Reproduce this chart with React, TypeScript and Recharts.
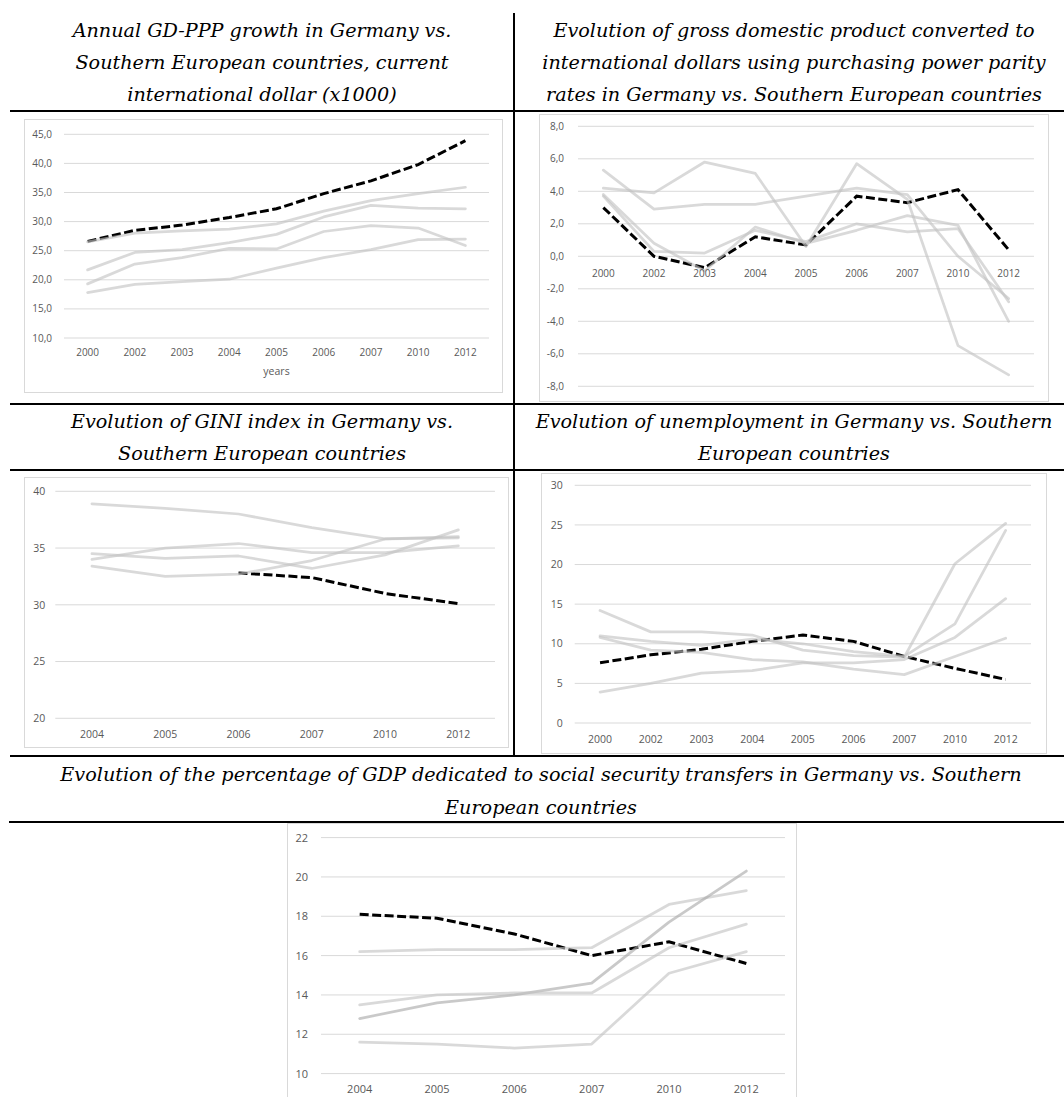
import React from "react";
import { LineChart, Line, XAxis, YAxis, CartesianGrid } from "recharts";

// categories
const years9 = ["2000", "2002", "2003", "2004", "2005", "2006", "2007", "2010", "2012"];
const years6 = ["2004", "2005", "2006", "2007", "2010", "2012"];

// GDP per capita, PPP, current international dollar (x1000)
const gdpGermany = [26.6, 28.5, 29.4, 30.7, 32.2, 34.8, 37.0, 39.8, 43.9];
const gdpSouthA = [26.5, 28.0, 28.4, 28.7, 29.6, 31.8, 33.6, 34.8, 35.9];
const gdpSouthB = [21.7, 24.7, 25.2, 26.4, 27.8, 30.8, 32.8, 32.3, 32.2];
const gdpSouthC = [19.3, 22.7, 23.8, 25.4, 25.3, 28.3, 29.3, 28.9, 25.9];
const gdpSouthD = [17.8, 19.2, 19.7, 20.1, 22.0, 23.8, 25.2, 26.9, 27.0];
const gdpTicks = [10, 15, 20, 25, 30, 35, 40, 45];

// GDP growth (%)
const growthGermany = [3.0, 0.0, -0.7, 1.2, 0.7, 3.7, 3.3, 4.1, 0.4];
const growthSouthA = [5.3, 2.9, 3.2, 3.2, 3.7, 4.2, 3.8, 0.0, -2.6];
const growthSouthB = [4.2, 3.9, 5.8, 5.1, 0.6, 5.7, 3.5, -5.5, -7.3];
const growthSouthC = [3.7, 0.3, 0.2, 1.6, 0.9, 2.0, 1.5, 1.7, -2.8];
const growthSouthD = [3.8, 0.8, -0.9, 1.8, 0.8, 1.6, 2.5, 1.9, -4.0];
const growthTicks = [-8, -6, -4, -2, 0, 2, 4, 6, 8];

// GINI index
const giniGermany = [null, null, 32.8, 32.4, 31.0, 30.1];
const giniSouthA = [38.9, 38.5, 38.0, 36.8, 35.8, 35.9];
const giniSouthB = [34.0, 35.0, 35.4, 34.6, 34.6, 35.2];
const giniSouthC = [34.5, 34.1, 34.3, 33.2, 34.4, 36.6];
const giniSouthD = [33.4, 32.5, 32.7, 33.9, 35.8, 36.0];
const giniTicks = [20, 25, 30, 35, 40];

// unemployment (%)
const unempGermany = [7.6, 8.6, 9.3, 10.3, 11.1, 10.3, 8.4, 6.9, 5.5];
const unempSouthA = [14.2, 11.5, 11.5, 11.1, 9.2, 8.5, 8.3, 20.1, 25.2];
const unempSouthB = [11.0, 10.3, 9.8, 10.6, 10.0, 9.0, 8.4, 12.5, 24.3];
const unempSouthC = [10.8, 9.2, 8.9, 8.0, 7.7, 6.8, 6.1, 8.4, 10.7];
const unempSouthD = [3.9, 5.0, 6.3, 6.6, 7.6, 7.6, 8.0, 10.8, 15.7];
const unempTicks = [0, 5, 10, 15, 20, 25, 30];

// social security transfers (% of GDP)
const socialGermany = [18.1, 17.9, 17.1, 16.0, 16.7, 15.6];
const socialSouthA = [16.2, 16.3, 16.3, 16.4, 18.6, 19.3];
const socialSouthB = [12.8, 13.6, 14.0, 14.6, 17.7, 20.3];
const socialSouthC = [13.5, 14.0, 14.1, 14.1, 16.4, 17.6];
const socialSouthD = [11.6, 11.5, 11.3, 11.5, 15.1, 16.2];
const socialTicks = [10, 12, 14, 16, 18, 20, 22];

const TICK_COLOR = "#595959";
const GRID_COLOR = "#d9d9d9";
const TICK_FONT = "'Open Sans', 'Liberation Sans', sans-serif";
const TITLE_FONT = "'DejaVu Serif', 'Liberation Serif', serif";

type Box = { left: number; top: number; right: number; bottom: number };

interface PanelProps {
  frame: Box;
  plot: Box;
  categories: string[];
  germany: (number | null)[];
  south: number[][];
  darkIndex?: number;
  domain: [number, number];
  ticks: number[];
  decimals: number;
  fontSize: number;
  xLabelGap: number;
  yLabelGap: number;
  zeroAxis?: boolean;
  xTitle?: string;
}

function ChartPanel(p: PanelProps) {
  const w = p.frame.right - p.frame.left;
  const h = p.frame.bottom - p.frame.top;
  const plotH = p.plot.bottom - p.plot.top;
  const band = (p.plot.right - p.plot.left) / p.categories.length;
  const bottomMargin = 4;
  const xAxisH = p.frame.bottom - p.plot.bottom - bottomMargin;
  // chart 2 puts its category labels on the zero line, not at the bottom
  const zeroShift = p.zeroAxis
    ? (plotH * (0 - p.domain[0])) / (p.domain[1] - p.domain[0])
    : 0;

  const data = p.categories.map((c, i) => {
    const row: Record<string, string | number | null> = { year: c, de: p.germany[i] };
    p.south.forEach((s, k) => {
      row["s" + k] = s[i];
    });
    return row;
  });

  const fmt = (v: number) => v.toFixed(p.decimals).replace(".", ",");

  const renderXTick = (props: any) => (
    <text
      x={props.x}
      y={props.y - zeroShift + p.xLabelGap}
      dy="0.35em"
      textAnchor="middle"
      fill={TICK_COLOR}
      fontSize={p.fontSize}
      fontFamily={TICK_FONT}
    >
      {props.payload.value}
    </text>
  );

  return (
    <>
      <div
        style={{
          position: "absolute",
          left: p.frame.left,
          top: p.frame.top,
          width: w,
          height: h,
          border: `1px solid ${GRID_COLOR}`,
          boxSizing: "border-box",
        }}
      />
      <div style={{ position: "absolute", left: p.frame.left, top: p.frame.top }}>
        <LineChart
          width={w}
          height={h}
          data={data}
          margin={{
            top: p.plot.top - p.frame.top,
            right: p.frame.right - p.plot.right,
            bottom: bottomMargin,
            left: 0,
          }}
        >
          <CartesianGrid vertical={false} stroke={GRID_COLOR} strokeWidth={1} />
          <XAxis
            dataKey="year"
            interval={0}
            height={xAxisH}
            tickSize={0}
            tickMargin={0}
            axisLine={false}
            tickLine={false}
            padding={{ left: band / 2, right: band / 2 }}
            tick={renderXTick}
            label={
              p.xTitle
                ? {
                    value: p.xTitle,
                    position: "insideBottom",
                    offset: xAxisH - 37,
                    fill: TICK_COLOR,
                    fontSize: p.fontSize + 0.5,
                    fontFamily: TICK_FONT,
                  }
                : undefined
            }
          />
          <YAxis
            type="number"
            domain={p.domain}
            ticks={p.ticks}
            width={p.plot.left - p.frame.left}
            tickSize={0}
            tickMargin={p.yLabelGap}
            axisLine={false}
            tickLine={false}
            tickFormatter={fmt}
            tick={{ fill: TICK_COLOR, fontSize: p.fontSize, fontFamily: TICK_FONT }}
          />
          <Line
            dataKey="de"
            type="linear"
            stroke="#000000"
            strokeWidth={3}
            strokeDasharray="9 3.5"
            dot={false}
            activeDot={false}
            connectNulls={false}
            isAnimationActive={false}
          />
          {p.south.map((_, k) => (
            <Line
              key={k}
              dataKey={"s" + k}
              type="linear"
              stroke={k === p.darkIndex ? "#a8a8a8" : "#c2c2c2"}
              strokeOpacity={0.62}
              strokeWidth={2.75}
              strokeLinecap="round"
              strokeLinejoin="round"
              dot={false}
              activeDot={false}
              isAnimationActive={false}
            />
          ))}
        </LineChart>
      </div>
    </>
  );
}

function Title({ lines, left, width, top, lineHeight }: { lines: string[]; left: number; width: number; top: number; lineHeight: number }) {
  return (
    <div
      style={{
        position: "absolute",
        left,
        top,
        width,
        textAlign: "center",
        fontFamily: TITLE_FONT,
        fontStyle: "italic",
        fontSize: 19.2,
        lineHeight: `${lineHeight}px`,
        color: "#000",
        whiteSpace: "nowrap",
      }}
    >
      {lines.map((l, i) => (
        <div key={i}>{l}</div>
      ))}
    </div>
  );
}

function Rule({ left, top, width, height }: { left: number; top: number; width: number; height: number }) {
  return <div style={{ position: "absolute", left, top, width, height, background: "#000" }} />;
}

export default function App() {
  return (
    <div
      style={{
        position: "absolute",
        left: 0,
        top: 0,
        width: 1064,
        height: 1097,
        overflow: "hidden",
        background: "#fff",
      }}
    >
      <Title
        lines={["Annual GD-PPP growth in Germany vs.", "Southern European countries, current", "international dollar (x1000)"]}
        left={10}
        width={504}
        top={15}
        lineHeight={32}
      />
      <Title
        lines={[
          "Evolution of gross domestic product converted to",
          "international dollars using purchasing power parity",
          "rates in Germany vs. Southern European countries",
        ]}
        left={524}
        width={540}
        top={15}
        lineHeight={32}
      />
      <Title
        lines={["Evolution of GINI index in Germany vs.", "Southern European countries"]}
        left={10}
        width={504}
        top={406}
        lineHeight={32}
      />
      <Title
        lines={["Evolution of unemployment in Germany vs. Southern", "European countries"]}
        left={524}
        width={540}
        top={406}
        lineHeight={32}
      />
      <Title
        lines={[
          "Evolution of the percentage of GDP dedicated to social security transfers in Germany vs. Southern",
          "European countries",
        ]}
        left={18}
        width={1046}
        top={758}
        lineHeight={33}
      />

      <Rule left={513} top={13} width={2} height={743} />
      <Rule left={10} top={110} width={1054} height={2} />
      <Rule left={10} top={402.5} width={1054} height={2} />
      <Rule left={10} top={469} width={1054} height={2} />
      <Rule left={10} top={755} width={1054} height={2} />
      <Rule left={9} top={821} width={1055} height={2} />

      <ChartPanel
        frame={{ left: 24, top: 119, right: 503, bottom: 393 }}
        plot={{ left: 64, top: 134.3, right: 489, bottom: 338 }}
        categories={years9}
        germany={gdpGermany}
        south={[gdpSouthA, gdpSouthB, gdpSouthC, gdpSouthD]}
        domain={[10, 45]}
        ticks={gdpTicks}
        decimals={1}
        fontSize={10}
        xLabelGap={14}
        yLabelGap={12}
        xTitle="years"
      />
      <ChartPanel
        frame={{ left: 539, top: 114, right: 1049, bottom: 401.7 }}
        plot={{ left: 578, top: 126.3, right: 1034, bottom: 386.3 }}
        categories={years9}
        germany={growthGermany}
        south={[growthSouthA, growthSouthB, growthSouthC, growthSouthD]}
        domain={[-8, 8]}
        ticks={growthTicks}
        decimals={1}
        fontSize={10}
        xLabelGap={17}
        yLabelGap={14}
        zeroAxis
      />
      <ChartPanel
        frame={{ left: 24, top: 476.7, right: 509, bottom: 748.3 }}
        plot={{ left: 55.3, top: 491, right: 495, bottom: 718 }}
        categories={years6}
        germany={giniGermany}
        south={[giniSouthA, giniSouthB, giniSouthC, giniSouthD]}
        domain={[20, 40]}
        ticks={giniTicks}
        decimals={0}
        fontSize={10.5}
        xLabelGap={16}
        yLabelGap={10}
      />
      <ChartPanel
        frame={{ left: 541, top: 472.7, right: 1047, bottom: 754.3 }}
        plot={{ left: 574.7, top: 485, right: 1031, bottom: 722.7 }}
        categories={years9}
        germany={unempGermany}
        south={[unempSouthA, unempSouthB, unempSouthC, unempSouthD]}
        domain={[0, 30]}
        ticks={unempTicks}
        decimals={0}
        fontSize={10.5}
        xLabelGap={16}
        yLabelGap={12}
      />
      <ChartPanel
        frame={{ left: 287, top: 822.7, right: 797, bottom: 1110 }}
        plot={{ left: 321, top: 837.3, right: 785, bottom: 1073.3 }}
        categories={years6}
        germany={socialGermany}
        south={[socialSouthA, socialSouthB, socialSouthC, socialSouthD]}
        darkIndex={1}
        domain={[10, 22]}
        ticks={socialTicks}
        decimals={0}
        fontSize={11}
        xLabelGap={16}
        yLabelGap={13}
      />
    </div>
  );
}
